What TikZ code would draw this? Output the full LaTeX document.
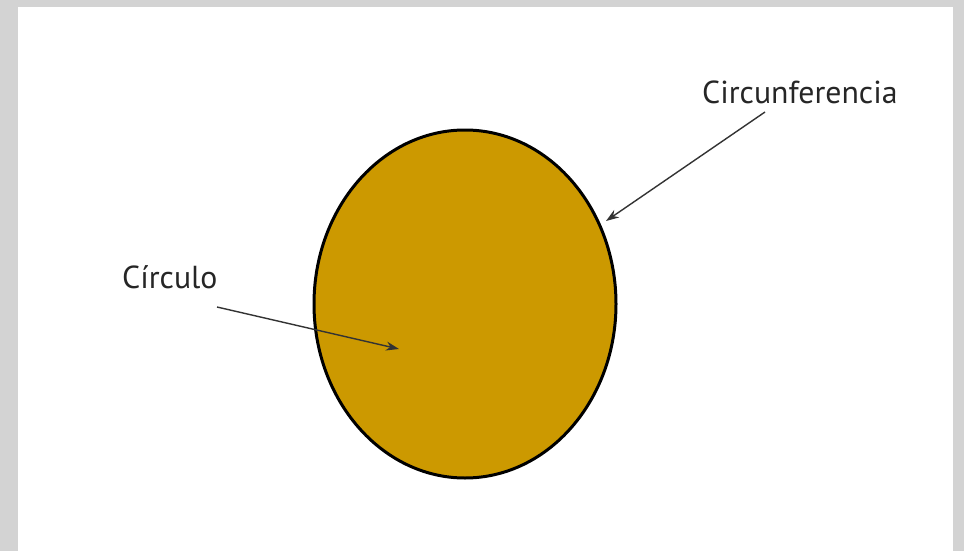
\documentclass[tikz,border=0pt]{standalone}
\usepackage{fontspec}
\setmainfont{PT Sans}
\usetikzlibrary{arrows.meta,shapes.geometric}
\definecolor{frame}{HTML}{D3D3D3}
\definecolor{gold}{HTML}{CC9900}
\definecolor{ink}{HTML}{333333}
\tikzset{
  lbl/.style={anchor=base west, inner sep=0pt, font=\fontsize{31.8}{38}\selectfont, text=black!85},
  ptr/.style={draw=ink, line width=1.4pt, -{Stealth[length=13pt,width=9pt]}}
}
\begin{document}
\begin{tikzpicture}[x=1pt,y=-1pt]
\useasboundingbox (0,0) rectangle (964,551);
\fill[frame] (0,0) rectangle (964,551);
\fill[white] (18,7) rectangle (953,551);
\node[draw=black, line width=3pt, fill=gold, ellipse, minimum width=302pt, minimum height=348pt, inner sep=0pt] (disk) at (465,304) {};
\node[lbl] (circ) at (702,103) {Circunferencia};
\node[lbl] (circulo) at (122,288) {Círculo};
\coordinate (c1) at (765,112);
\coordinate (c2) at (606,221);
\coordinate (d1) at (217,307);
\coordinate (d2) at (399,349);
\draw[ptr] (c1) -- (c2);
\draw[ptr] (d1) -- (d2);
\end{tikzpicture}
\end{document}
